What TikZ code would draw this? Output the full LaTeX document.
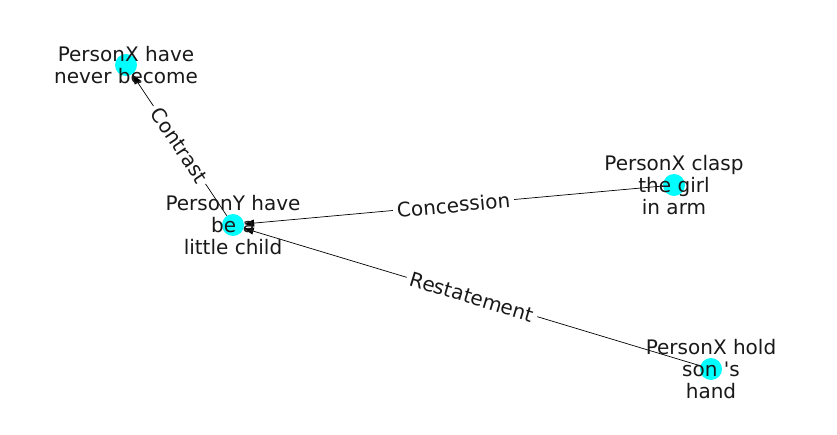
\documentclass[tikz,border=0pt]{standalone}
\usepackage{fontspec}
\setmainfont{DejaVu Sans}[Ligatures=TeXOff]
\usetikzlibrary{arrows.meta}
\definecolor{aqua}{RGB}{0,255,255}

\begin{document}
\begin{tikzpicture}[x=1pt, y=1pt,
          dot/.style={circle, fill=aqua, minimum size=22pt, inner sep=0pt},
          txt/.style={align=center, text=black!90, font=\fontsize{20}{22}\selectfont},
          edge/.style={draw=black, line width=0.7pt, -{Triangle[length=10pt, width=7pt]}},
          elabel/.style={midway, sloped, fill=white, inner sep=4pt, text=black!90, font=\fontsize{20}{22}\selectfont}
        ]
          \useasboundingbox (0,0) rectangle (837,434);

          \node[dot] (never) at (126,369) {};
          \node[dot] (child) at (233,209) {};
          \node[dot] (clasp) at (674,249) {};
          \node[dot] (hold) at (711,65) {};

          \draw[edge] (child) -- node[elabel] {Contrast} (never);
          \draw[edge] (clasp) -- node[elabel] {Concession} (child);
          \draw[edge] (hold) -- node[elabel] {Restatement} (child);

          % node texts on top of the dots
          \node[txt] (tnever) at (never) {PersonX have\\never become};
          \node[txt] (tchild) at (child) {PersonY have\\be a\\little child};
          \node[txt] (tclasp) at (clasp) {PersonX clasp\\the girl\\in arm};
          \node[txt] (thold) at (hold) {PersonX hold\\son 's\\hand};

        \end{tikzpicture}
\end{document}
